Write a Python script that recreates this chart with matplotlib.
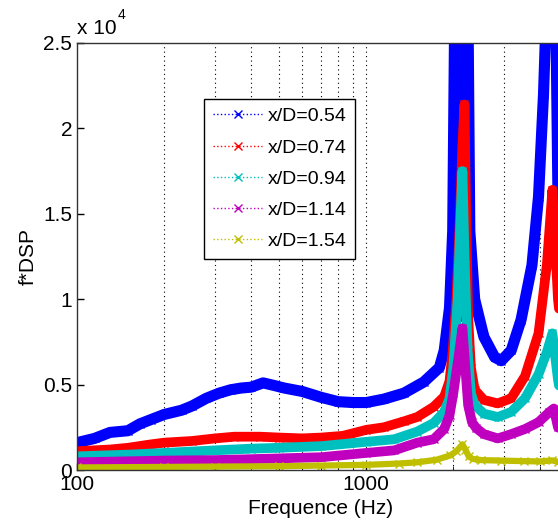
import numpy as np
import matplotlib
matplotlib.use("Agg")
import matplotlib.pyplot as plt
from matplotlib.ticker import FixedLocator, NullFormatter

plt.rcParams['font.family'] = ['Liberation Sans', 'DejaVu Sans']

# values (frequency in Hz, f*DSP)
freq_054 = [100, 115, 130, 150, 165, 180, 200, 230, 250, 280, 310, 340, 370, 400, 440, 480, 520, 600,
            700, 800, 900, 1000, 1150, 1350, 1580, 1790, 1860, 1940, 1990, 2030, 2060, 2100, 2150, 2200,
            2240, 2280, 2370, 2550, 2780, 2930, 3170, 3430, 3740, 3940, 4100, 4250, 4400, 4500, 4600,
            4700, 4810]
dsp_054 = [1600, 1850, 2200, 2300, 2700, 2950, 3250, 3500, 3750, 4200, 4500, 4700, 4800, 4850, 5100, 4950,
           4800, 4600, 4250, 4000, 3950, 3950, 4150, 4500, 5150, 6000, 7000, 9500, 14000, 30000, 20000,
           9000, 9000, 20000, 30000, 14000, 10000, 7800, 6600, 6400, 7000, 8800, 12000, 16000, 22000,
           30000, 30000, 30000, 16000, 12000, 10000]

freq_074 = [100, 130, 150, 180, 200, 250, 300, 350, 430, 500, 600, 700, 830, 1000, 1150, 1350, 1500, 1710,
            1860, 1940, 1990, 2050, 2100, 2150, 2185, 2215, 2250, 2300, 2370, 2550, 2850, 3170, 3540, 3940,
            4210, 4400, 4600, 4810]
dsp_074 = [1100, 1200, 1300, 1500, 1600, 1700, 1850, 1950, 1950, 1900, 1850, 1900, 2000, 2350, 2500, 2850,
           3100, 3700, 4300, 5200, 7000, 10000, 14000, 19000, 21400, 15000, 9000, 6000, 4700, 4100, 3900,
           4200, 5500, 8000, 12000, 16400, 10000, 7000]

freq_094 = [100, 150, 200, 300, 400, 500, 700, 1000, 1250, 1500, 1710, 1860, 1940, 2000, 2070, 2120, 2150,
            2190, 2240, 2300, 2370, 2550, 2850, 3170, 3540, 3940, 4210, 4400, 4600, 4810]
dsp_094 = [800, 900, 1000, 1150, 1250, 1300, 1400, 1650, 1800, 2250, 2750, 3400, 4200, 6000, 10000, 15000,
           17500, 12000, 7000, 4500, 3800, 3300, 3100, 3400, 4200, 5600, 6900, 8000, 5300, 3400]

freq_114 = [100, 200, 300, 500, 700, 1000, 1250, 1500, 1710, 1860, 1940, 2000, 2080, 2150, 2200, 2250, 2320,
            2400, 2550, 2850, 3170, 3540, 3940, 4300, 4450, 4600, 4810]
dsp_114 = [450, 550, 580, 680, 750, 1000, 1150, 1600, 1800, 2400, 3200, 4500, 6500, 8300, 6000, 3800, 2800,
           2450, 2100, 1850, 2100, 2400, 2800, 3400, 3600, 2500, 2300]

freq_154 = [100, 200, 300, 500, 700, 1000, 1300, 1500, 1750, 1950, 2050, 2150, 2200, 2260, 2330, 2500, 2930,
            3500, 4000, 4400, 4600, 4810]
dsp_154 = [150, 180, 200, 220, 260, 300, 380, 450, 600, 850, 1100, 1500, 1200, 800, 650, 580, 550, 520, 500,
           560, 480, 420]

labels = ['x/D=0.54', 'x/D=0.74', 'x/D=0.94', 'x/D=1.14', 'x/D=1.54']
colors = [(0, 0, 1), (1, 0, 0), (0, 0.75, 0.75), (0.75, 0, 0.75), (0.75, 0.75, 0)]
series = [(freq_054, dsp_054), (freq_074, dsp_074), (freq_094, dsp_094), (freq_114, dsp_114), (freq_154, dsp_154)]
band_widths = [8, 7, 7, 7, 4.5]

fig = plt.figure(figsize=(5.58, 5.28), dpi=100)
ax = fig.add_axes([77 / 558, 58 / 528, 1 - 77 / 558 + 0.01, 427 / 528])

for (f, v), c, lab, bw in zip(series, colors, labels, band_widths):
    ax.plot(f, v, '-', color=c, lw=bw, solid_capstyle='round', solid_joinstyle='round')
    ax.plot(f, v, ':', color=c, marker='x', markersize=6, lw=1, label=lab)

ax.set_xscale('log')
ax.set_xlim(100, 4810)
ax.set_ylim(0, 25000)

ax.xaxis.set_major_locator(FixedLocator([100, 1000]))
ax.set_xticklabels(['100', '1000'])
minor = [200, 300, 400, 500, 600, 700, 800, 900, 2000, 3000, 4000]
ax.xaxis.set_minor_locator(FixedLocator(minor))
ax.xaxis.set_minor_formatter(NullFormatter())
for xv in [1000] + minor:
    ax.axvline(xv, color='black', ls=(0, (1, 3)), lw=0.8, zorder=0)

ax.set_yticks([0, 5000, 10000, 15000, 20000, 25000])
ax.set_yticklabels(['0', '0.5', '1', '1.5', '2', '2.5'])
ax.tick_params(direction='in', labelsize=15, length=5, width=1)
ax.tick_params(which='minor', direction='in', length=3)
ax.text(0.0, 1.012, 'x 10', transform=ax.transAxes, fontsize=15, ha='left', va='bottom')
ax.text(0.083, 1.05, '4', transform=ax.transAxes, fontsize=10, ha='left', va='bottom')

for s in ['top', 'left', 'bottom']:
    ax.spines[s].set_linewidth(1)
    ax.spines[s].set_color('#333333')
ax.spines['right'].set_visible(False)

ax.set_xlabel('Frequence (Hz)', fontsize=15)
ax.set_ylabel('f*DSP', fontsize=15)

leg = ax.legend(loc='upper left', bbox_to_anchor=(0.262, 0.869), fontsize=14, fancybox=False,
                framealpha=1, edgecolor='black', handlelength=2.5, labelspacing=0.7, borderpad=0.45,
                handletextpad=0.3, borderaxespad=0)
leg.get_frame().set_linewidth(1)

fig.savefig('out.png', dpi=100)
